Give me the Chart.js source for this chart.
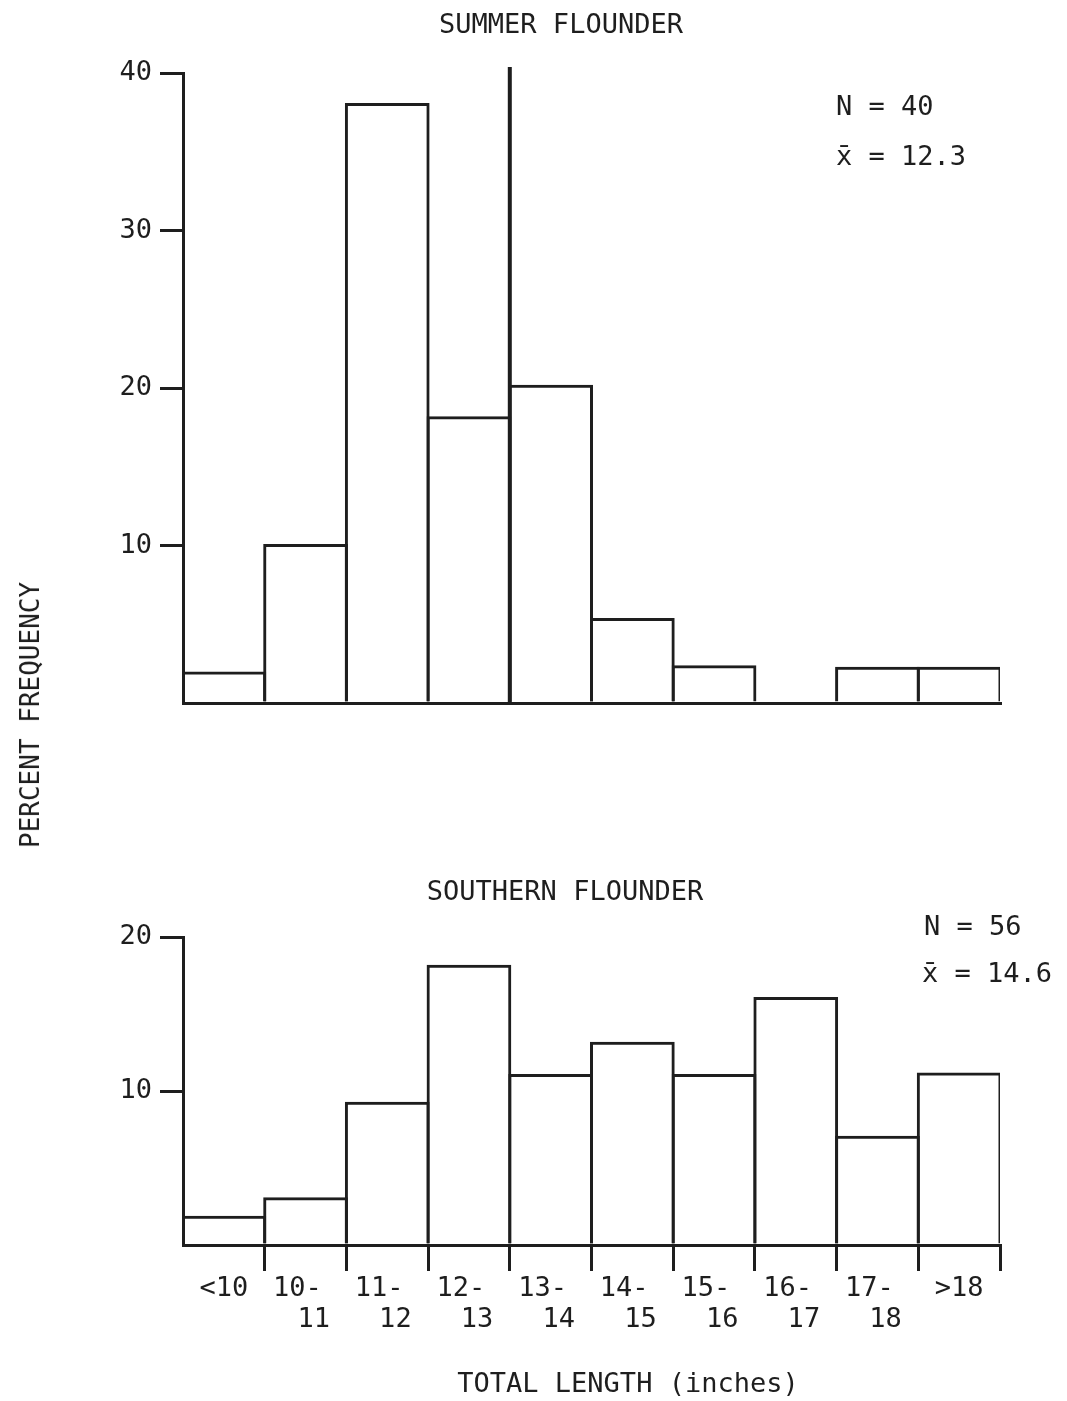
<!DOCTYPE html>
<html>
<head>
<meta charset="utf-8">
<script src="https://cdn.jsdelivr.net/npm/chart.js@4.4.1/dist/chart.umd.min.js"></script>
<style>
  html, body { margin: 0; padding: 0; background: #fff; }
  body { width: 1067px; height: 1401px; position: relative; overflow: hidden; font-family: 'DejaVu Sans Mono', monospace; color: #1e1e1e; }
  canvas { position: absolute; left: 0; }
  #top { top: 0; }
  #bottom { top: 760px; }
  #ylabel { position: absolute; left: 30px; top: 715px; transform: translate(-50%, -50%) rotate(-90deg); font-size: 26px; white-space: nowrap; }
</style>
</head>
<body>
<canvas id="top" width="1067" height="760"></canvas>
<canvas id="bottom" width="1067" height="641"></canvas>
<div id="ylabel">PERCENT FREQUENCY</div>
<script>
// length classes (inches), shared by both histograms
const lengthBins = ['<10', ['10-', '11'], ['11-', '12'], ['12-', '13'], ['13-', '14'],
    ['14-', '15'], ['15-', '16'], ['16-', '17'], ['17-', '18'], '>18'];

// percent frequency
const summerPct = [2.0, 10.1, 38.1, 18.2, 20.2, 5.4, 2.4, 0, 2.3, 2.3];
const southernPct = [1.9, 3.1, 9.3, 18.2, 11.1, 13.2, 11.1, 16.1, 7.1, 11.2];

// y axis tops and tick step
const summerMax = 40;
const southernMax = 20;
const tickStep = 10;

// sample size / mean texts
const summerStats = ['N = 40', 'x\u0304 = 12.3'];
const southernStats = ['N = 56', 'x\u0304 = 14.6'];

// the mean line of the top plot sits on the 12-13 / 13-14 class boundary
const summerMeanAt = 3.5;

const ink = '#1e1e1e';
const none = 'rgba(0,0,0,0)';
const monoFont = "'DejaVu Sans Mono', monospace";

//Draws plain text items on the canvas after the chart is drawn
function notes(items) {
    return {
        id: 'notes',
        afterDraw(chart) {
            const ctx = chart.ctx;
            ctx.save();
            ctx.fillStyle = ink;
            ctx.textBaseline = 'middle';
            items.forEach(t => {
                ctx.font = t.size + 'px ' + monoFont;
                ctx.textAlign = t.align || 'left';
                ctx.fillText(t.text, t.x, t.y);
            });
            ctx.restore();
        }
    };
}

//Vertical mean line, placed with the x scale
const meanLine = {
    id: 'meanLine',
    afterDatasetsDraw(chart) {
        const x = chart.scales.x.getPixelForValue(summerMeanAt);
        const area = chart.chartArea;
        const ctx = chart.ctx;
        ctx.save();
        ctx.strokeStyle = ink;
        ctx.lineWidth = 4;
        ctx.beginPath();
        ctx.moveTo(x, area.top - 6);
        ctx.lineTo(x, area.bottom);
        ctx.stroke();
        ctx.restore();
    }
};

function makeConfig(values, yMax, padTop, xHeight, showXTicks, plugins) {
    return {
        type: 'bar',
        data: {
            labels: lengthBins,
            datasets: [{
                data: values,
                backgroundColor: none,
                borderColor: ink,
                borderWidth: 3,
                borderSkipped: 'bottom',
                inflateAmount: 0,
                categoryPercentage: 1,
                barPercentage: 1.037,   //a little over 1 so neighbouring bar edges sit on top of each other
            }]
        },
        options: {
            responsive: false,
            animation: false,
            devicePixelRatio: 1,
            layout: {padding: {top: padTop, right: 67, left: 0, bottom: 0}},
            plugins: {
                legend: {display: false},
                tooltip: {enabled: false},
            },
            scales: {
                x: {
                    type: 'category',
                    offset: true,
                    grid: {
                        display: showXTicks,
                        offset: true,
                        drawOnChartArea: false,
                        tickLength: 26,
                        lineWidth: 3,
                        color: ctx => ctx.index === 0 ? none : ink,
                    },
                    border: {display: true, color: ink, width: 3},
                    ticks: {
                        display: showXTicks,
                        autoSkip: false,
                        maxRotation: 0,
                        padding: 2,
                        color: ink,
                        font: {family: monoFont, size: 27, lineHeight: 1.15},
                        callback: (v, i) => {
                            const l = lengthBins[i];
                            return Array.isArray(l) ? [l[0] + ' ', ' ' + l[1]] : l;
                        }
                    },
                    afterFit: s => { s.height = xHeight; }
                },
                y: {
                    min: 0,
                    max: yMax,
                    grid: {
                        drawOnChartArea: false,
                        tickLength: 23,
                        lineWidth: 3,
                        color: ctx => (ctx.tick && ctx.tick.value === 0) ? none : ink,
                    },
                    border: {display: true, color: ink, width: 3},
                    ticks: {
                        stepSize: tickStep,
                        padding: 8,
                        color: ink,
                        font: {family: monoFont, size: 27},
                        callback: v => v === 0 ? '' : v
                    },
                    afterFit: s => { s.width = 183; }
                }
            }
        },
        plugins: plugins
    };
}

new Chart(document.getElementById('top').getContext('2d'),
    makeConfig(summerPct, summerMax, 73, 57, false, [meanLine, notes([
        {text: 'SUMMER FLOUNDER', x: 561, y: 26, size: 27, align: 'center'},
        {text: summerStats[0], x: 836, y: 108, size: 27},
        {text: summerStats[1], x: 836, y: 158, size: 27},
    ])]));

new Chart(document.getElementById('bottom').getContext('2d'),
    makeConfig(southernPct, southernMax, 177, 156, true, [notes([
        {text: 'SOUTHERN FLOUNDER', x: 565, y: 133, size: 27, align: 'center'},
        {text: southernStats[0], x: 924, y: 168, size: 27},
        {text: southernStats[1], x: 922, y: 215, size: 27},
        {text: 'TOTAL LENGTH (inches)', x: 628, y: 625, size: 27, align: 'center'},
    ])]));
</script>
</body>
</html>
